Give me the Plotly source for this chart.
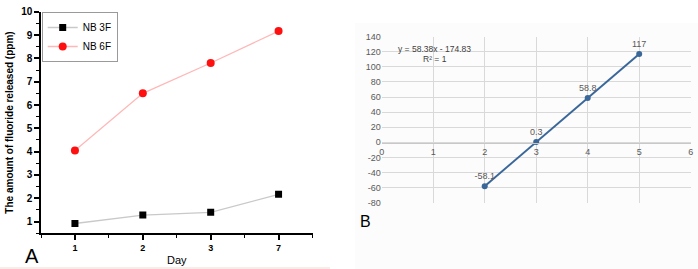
import plotly.graph_objects as go

W, H = 698, 269

# ---- Panel A data ----
day_labels = ["1", "2", "3", "7"]
day_pos = [1, 2, 3, 4]
nb3f = [0.92, 1.28, 1.40, 2.17]
nb6f = [4.05, 6.50, 7.80, 9.17]

# ---- Panel B data ----
b_x = [2, 3, 4, 5]
b_y = [-58.1, 0.3, 58.8, 117]
b_labels = ["-58.1", "0.3", "58.8", "117"]
b_yticks = [-80, -60, -40, -20, 0, 20, 40, 60, 80, 100, 120, 140]
b_xticks = [0, 1, 2, 3, 4, 5, 6]
b_eq = "y = 58.38x - 174.83"
b_r2 = "R² = 1"

def px_x(p):
    return p / W

def px_y(p):
    return (H - p) / H

fig = go.Figure()

fig.add_trace(go.Scatter(
    x=day_pos, y=nb3f, name="NB 3F", mode="lines+markers",
    line=dict(color="#c9c9c9", width=1.3),
    marker=dict(symbol="square", size=7, color="black"),
    xaxis="x", yaxis="y"))
fig.add_trace(go.Scatter(
    x=day_pos, y=nb6f, name="NB 6F", mode="lines+markers",
    line=dict(color="#ffb8b8", width=1.3),
    marker=dict(symbol="circle", size=8, color="#ff1010"),
    xaxis="x", yaxis="y"))

fig.add_trace(go.Scatter(
    x=b_x, y=b_y, mode="lines+markers+text", text=b_labels,
    textposition="top center", showlegend=False,
    textfont=dict(family="Liberation Sans", size=9, color="#595959"),
    line=dict(color="#3a679a", width=2),
    marker=dict(symbol="circle", size=6, color="#3a679a"),
    xaxis="x2", yaxis="y2", cliponaxis=False))

axis_font = dict(family="Liberation Sans", size=10, color="black", weight="bold")

fig.update_layout(
    width=W, height=H,
    margin=dict(l=0, r=0, t=0, b=0, autoexpand=False),
    paper_bgcolor="white", plot_bgcolor="rgba(0,0,0,0)",
    font=dict(family="Liberation Sans", color="black"),
    xaxis=dict(
        domain=[px_x(41), px_x(312.5)], range=[0.5, 4.5], automargin=False,
        tickvals=day_pos, ticktext=day_labels,
        showgrid=False, zeroline=False,
        showline=True, linecolor="black", linewidth=1.5,
        ticks="outside", ticklen=5, tickwidth=1.5, tickcolor="black",
        tickfont=dict(family="Liberation Sans", size=9, color="black", weight="bold"),
        minor=dict(dtick=0.5, tick0=0.5, ticks="outside", ticklen=3, tickcolor="black", tickwidth=1),
        title=dict(text="Day", font=dict(size=11, family="Liberation Sans"), standoff=4),
        anchor="y"),
    yaxis=dict(
        domain=[px_y(233.3), px_y(11.7)], range=[0.5, 10], automargin=False,
        tickvals=[1, 2, 3, 4, 5, 6, 7, 8, 9, 10],
        showgrid=False, zeroline=False,
        showline=True, linecolor="black", linewidth=1.5,
        ticks="outside", ticklen=5, tickwidth=1.5, tickcolor="black",
        tickfont=axis_font,
        minor=dict(dtick=0.5, tick0=0.5, ticks="outside", ticklen=3, tickcolor="black", tickwidth=1),
        title=dict(text="The amount of fluoride released (ppm)",
                   font=dict(size=10, family="Liberation Sans", weight="bold"), standoff=6),
        anchor="x"),
    xaxis2=dict(
        domain=[px_x(381.7), px_x(690.7)], range=[0, 6], automargin=False,
        tickvals=b_xticks, ticktext=[str(v) for v in b_xticks],
        showgrid=True, gridcolor="#d9d9d9", gridwidth=1, zeroline=False,
        showline=True, linecolor="#c8c8c8", linewidth=1,
        ticks="", tickfont=dict(family="Liberation Sans", size=9, color="#595959"),
        anchor="free", position=px_y(142.7)),
    yaxis2=dict(
        domain=[px_y(202.7), px_y(36.7)], range=[-80, 140], automargin=False,
        tickvals=b_yticks, ticktext=[str(v) for v in b_yticks],
        showgrid=True, gridcolor="#d9d9d9", gridwidth=1, zeroline=False,
        showline=False, ticks="",
        tickfont=dict(family="Liberation Sans", size=9, color="#595959"),
        anchor="x2"),
    legend=dict(
        x=px_x(41.7), y=px_y(12), xanchor="left", yanchor="top",
        bgcolor="white", bordercolor="#9a9a9a", borderwidth=1,
        font=dict(family="Liberation Sans", size=10, color="black"),
        itemwidth=30, tracegroupgap=0),
    annotations=[
        dict(text=b_eq, x=1.02, y=124, xref="x2", yref="y2", showarrow=False,
             font=dict(family="Liberation Sans", size=8.5, color="#404040")),
        dict(text=b_r2, x=1.03, y=110, xref="x2", yref="y2", showarrow=False,
             font=dict(family="Liberation Sans", size=8.5, color="#404040")),
        dict(text="A", x=px_x(32), y=px_y(256), xref="paper", yref="paper",
             xanchor="center", yanchor="middle",
             showarrow=False, font=dict(family="Liberation Sans", size=20, color="black")),
        dict(text="B", x=px_x(366), y=px_y(221), xref="paper", yref="paper",
             xanchor="center", yanchor="middle",
             showarrow=False, font=dict(family="Liberation Sans", size=16, color="black")),
    ],
    shapes=[
        dict(type="rect", xref="paper", yref="paper", x0=px_x(355), x1=1,
             y0=0, y1=px_y(23), fillcolor="#fcfcfc", line=dict(width=0), layer="below"),
        dict(type="line", xref="paper", yref="paper", x0=0, x1=px_x(330),
             y0=px_y(268), y1=px_y(268), line=dict(color="#f7d8cf", width=1)),
    ],
)

fig.write_html("out.html")
